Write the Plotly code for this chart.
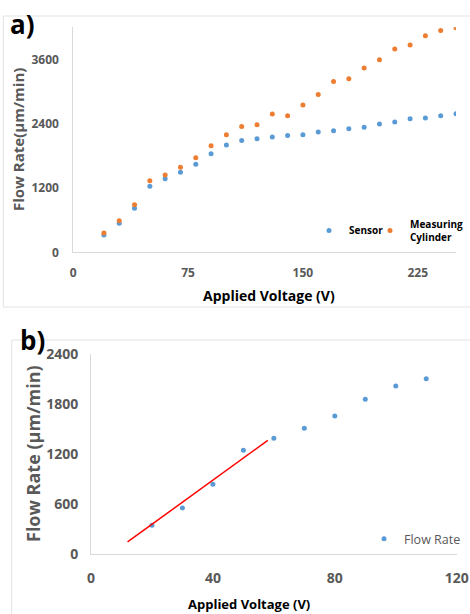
import plotly.graph_objects as go

# ---- data ----
voltage_a = [20, 30, 40, 50, 60, 70, 80, 90, 100, 110, 120, 130, 140, 150,
             160, 170, 180, 190, 200, 210, 220, 230, 240, 250]
sensor_flow = [323, 541, 821, 1231, 1374, 1492, 1642, 1841, 2002, 2089, 2120, 2151,
               2182, 2195, 2245, 2270, 2307, 2332, 2394, 2431, 2493, 2506, 2549, 2587]
cylinder_flow = [361, 591, 889, 1337, 1443, 1586, 1766, 1990, 2195, 2350, 2381, 2580,
                 2549, 2748, 2947, 3190, 3240, 3439, 3594, 3793, 3868, 4042, 4141, 4191]

voltage_b = [20, 30, 40, 50, 60, 70, 80, 90, 100, 110]
flow_b = [348, 556, 840, 1248, 1392, 1512, 1660, 1860, 2020, 2108]

# linear fit over the low-voltage region
fit_slope = 26.5
fit_intercept = -170
fit_x = [12, 58]

xticks_a = [0, 75, 150, 225]
yticks_a = [0, 1200, 2400, 3600]
xticks_b = [0, 40, 80, 120]
yticks_b = [0, 600, 1200, 1800, 2400]

W, H = 470, 614
BLUE = "#5b9bd5"
ORANGE = "#ed7d31"
GRAY = "#595959"
AXIS = "#d9d9d9"
FONT = "Open Sans"


def px_x(v):
    return v / W


def px_y(v):
    return 1 - v / H


fig = go.Figure()

fig.add_trace(go.Scatter(x=voltage_a, y=sensor_flow, mode="markers", name="Sensor",
                         marker=dict(color=BLUE, size=5), xaxis="x", yaxis="y",
                         legend="legend"))
fig.add_trace(go.Scatter(x=voltage_a, y=cylinder_flow, mode="markers",
                         name="Measuring<br>Cylinder",
                         marker=dict(color=ORANGE, size=5), xaxis="x", yaxis="y",
                         legend="legend3"))
fig.add_trace(go.Scatter(x=voltage_b, y=flow_b, mode="markers", name="Flow Rate",
                         marker=dict(color=BLUE, size=5), xaxis="x2", yaxis="y2",
                         legend="legend2"))
fit_y = [fit_slope * v + fit_intercept for v in fit_x]
fig.add_trace(go.Scatter(x=fit_x, y=fit_y, mode="lines", showlegend=False,
                         line=dict(color="#ff0000", width=1.5), xaxis="x2", yaxis="y2"))

common_axis = dict(showgrid=False, zeroline=False, showline=True, linecolor=AXIS,
                   linewidth=1, ticks="", fixedrange=True)

legend_a_font = dict(size=10, color="black", weight="bold")

fig.update_layout(
    width=W, height=H,
    margin=dict(l=0, r=0, t=0, b=0, autoexpand=False),
    paper_bgcolor="white", plot_bgcolor="white",
    font=dict(family=FONT, color=GRAY),
    xaxis=dict(domain=[px_x(73.3), px_x(456)], range=[0, 250], tickvals=xticks_a,
               tickfont=dict(size=12, color=GRAY, weight="bold"), ticklabelstandoff=9,
               anchor="y", **common_axis),
    yaxis=dict(domain=[px_y(252.3), px_y(27.3)], range=[0, 4200], tickvals=yticks_a,
               tickfont=dict(size=12, color=GRAY, weight="bold"), ticklabelstandoff=11,
               anchor="x", **common_axis),
    xaxis2=dict(domain=[px_x(91), px_x(456.7)], range=[0, 120], tickvals=xticks_b,
                tickfont=dict(size=14, color=GRAY, weight="bold"), ticklabelstandoff=11,
                anchor="y2", **common_axis),
    yaxis2=dict(domain=[px_y(554.3), px_y(354.3)], range=[0, 2400], tickvals=yticks_b,
                tickfont=dict(size=14, color=GRAY, weight="bold"), ticklabelstandoff=9,
                anchor="x2", **common_axis),
    legend=dict(orientation="h", x=px_x(309), y=px_y(216), xanchor="left", yanchor="top",
                bgcolor="rgba(0,0,0,0)", itemwidth=30, font=legend_a_font),
    legend3=dict(orientation="h", x=px_x(370), y=px_y(211), xanchor="left", yanchor="top",
                 bgcolor="rgba(0,0,0,0)", itemwidth=30, font=legend_a_font),
    legend2=dict(orientation="h", x=px_x(364), y=px_y(524), xanchor="left", yanchor="top",
                 bgcolor="rgba(0,0,0,0)", itemwidth=30,
                 font=dict(size=12.5, color=GRAY)),
    showlegend=True,
)

# chart-area frames
fig.add_shape(type="rect", xref="paper", yref="paper",
              x0=px_x(3.3), x1=px_x(475), y0=px_y(307), y1=px_y(16),
              line=dict(color="#e3e3e3", width=1))
fig.add_shape(type="rect", xref="paper", yref="paper",
              x0=px_x(11.7), x1=px_x(475), y0=px_y(620), y1=px_y(340),
              line=dict(color="#e3e3e3", width=1))

annotations = [
    dict(text="a)", x=px_x(8), y=px_y(24), xanchor="left", yanchor="middle",
         font=dict(size=26, color="black", weight="bold")),
    dict(text="b)", x=px_x(18), y=px_y(340), xanchor="left", yanchor="middle",
         font=dict(size=26, color="black", weight="bold")),
    dict(text="Flow Rate(µm/min)", x=px_x(18), y=px_y(140), textangle=-90,
         xanchor="center", yanchor="middle",
         font=dict(size=15, color=GRAY, weight="bold")),
    dict(text="Applied Voltage (V)", x=px_x(269), y=px_y(295), xanchor="center",
         yanchor="middle", font=dict(size=14, color="black", weight="bold")),
    dict(text="Flow Rate (µm/min)", x=px_x(33), y=px_y(454), textangle=-90,
         xanchor="center", yanchor="middle",
         font=dict(size=18, color=GRAY, weight="bold")),
    dict(text="Applied Voltage (V)", x=px_x(249), y=px_y(604), xanchor="center",
         yanchor="middle", font=dict(size=13, color="black", weight="bold")),
]
for a in annotations:
    fig.add_annotation(xref="paper", yref="paper", showarrow=False, **a)

fig.write_html("out.html")
